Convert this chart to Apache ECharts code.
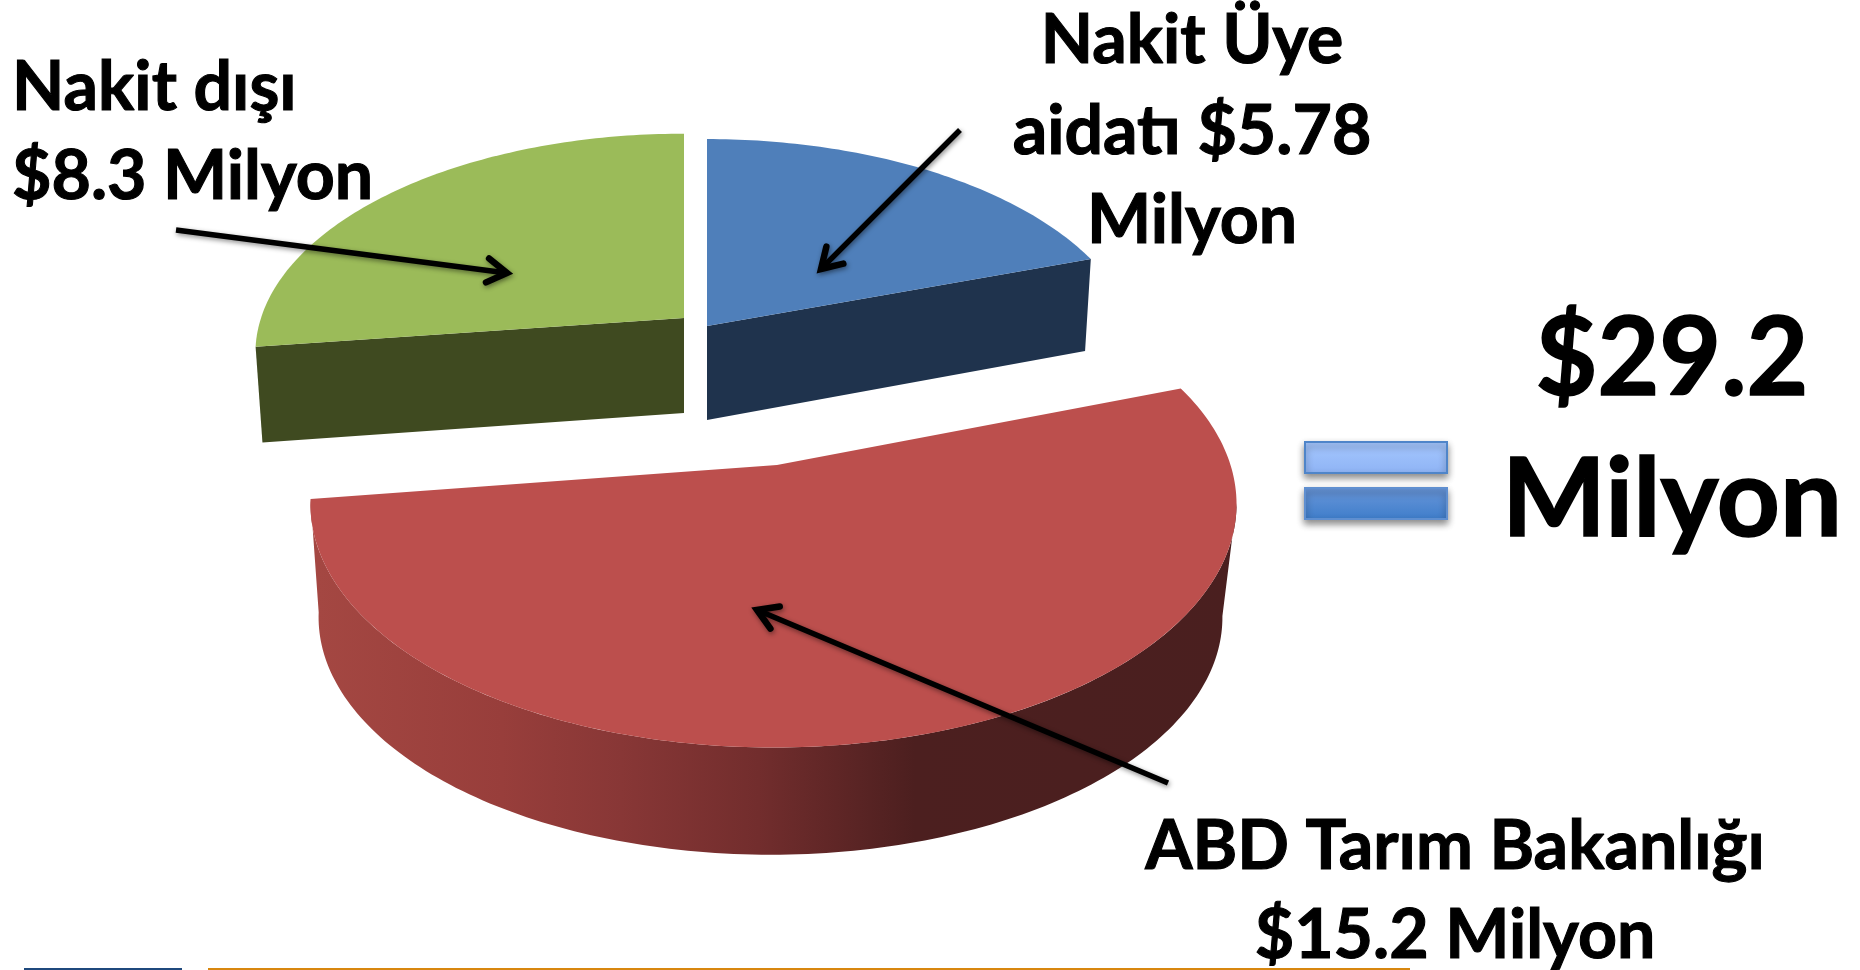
<!DOCTYPE html>
<html>
<head>
<meta charset="utf-8">
<style>
  html, body { margin: 0; padding: 0; background: #fff; }
  #chart { width: 1860px; height: 970px; }
</style>
<script src="https://cdn.jsdelivr.net/npm/echarts@6/dist/echarts.min.js"></script>
</head>
<body>
<div id="chart"></div>
<script>
const categories = ['Nakit Üye aidatı', 'ABD Tarım Bakanlığı', 'Nakit dışı']
const values = [5.78, 15.2, 8.3]
const total = values.reduce((a, b) => a + b, 0)

// perspective of each exploded slice, the drawn pie leans back a little
const KEEP = 0.161
const sliceLook = [
  { cx: 707, cy: 326, rx: 427, ry: 217, depth: 94, lean: 0.1, lowDx: 0, shrink: 0.985, top: '#4f7fba', wall: '#1f334d', trim: [0, 0], wallFrom: 'end' },
  { cx: 773.5, cy: 465, apexX: 777, rx: 457, ry: 237, depth: 114, lean: 0, lowDx: -3, shrink: 0.976, top: '#bc4f4d', trim: [-1, 4], wallFrom: 'arc' },
  { cx: 684, cy: 318, rx: 423, ry: 214, depth: 95, lean: 0.1, lowDx: 0, shrink: 0.984, top: '#9bbb59', wall: '#3f4a20', trim: [4.5, 0], wallFrom: 'start' }
]
const drawOrder = [2, 0, 1]

function project(look, deg, r, low) {
  const t = deg * Math.PI / 180
  const c = Math.cos(t)
  const s = 1 / (1 + KEEP * c)
  const scale = low ? look.shrink : 1
  const x0 = r === 0 && look.apexX ? look.apexX : look.cx
  return [
    x0 + (low ? look.lowDx : 0) + look.rx * Math.sin(t) * s * r * scale,
    look.cy + (low ? look.depth * (1 - look.lean * c * r) : 0) - look.ry * c * s * r * scale
  ]
}

function arcPoints(look, from, to, low) {
  const pts = []
  const n = Math.ceil(Math.abs(to - from))
  for (let i = 0; i <= n; i++) pts.push(project(look, from + (to - from) * i / n, 1, low))
  return pts
}

function sliceAngles(index) {
  let before = 0
  for (let i = 0; i < index; i++) before += values[i]
  const look = sliceLook[index]
  return [before / total * 360 + look.trim[0], (before + values[index]) / total * 360 + look.trim[1]]
}

function renderSlice(params, api) {
  const index = drawOrder[params.dataIndex]
  const look = sliceLook[index]
  const [a0, a1] = sliceAngles(index)
  const children = []
  if (look.wallFrom === 'arc') {
    // outer rim, only the part facing us
    const rimStart = Math.max(a0, 99)
    const rim = arcPoints(look, rimStart, a1, false).concat(arcPoints(look, a1, rimStart, true))
    children.push({
      type: 'polygon',
      shape: { points: rim },
      style: {
        fill: new echarts.graphic.LinearGradient(318, 0, 1236, 0, [
          { offset: 0, color: '#a44742' },
          { offset: 0.2, color: '#983e3b' },
          { offset: 0.33, color: '#883736' },
          { offset: 0.48, color: '#722d2d' },
          { offset: 0.65, color: '#4c1f1f' },
          { offset: 1, color: '#4a1f1f' }
        ], true)
      }
    })
  } else {
    const edge = look.wallFrom === 'end' ? a1 : a0
    children.push({
      type: 'polygon',
      shape: { points: [project(look, edge, 0, false), project(look, edge, 1, false), project(look, edge, 1, true), project(look, edge, 0, true)] },
      style: { fill: look.wall }
    })
  }
  children.push({
    type: 'polygon',
    shape: { points: [project(look, a0, 0, false)].concat(arcPoints(look, a0, a1, false)) },
    style: { fill: look.top }
  })
  return { type: 'group', children }
}

function label(text, x, y, size, align, scaleX) {
  return {
    type: 'text', x, y, scaleX: scaleX || 1, z: 20,
    style: {
      text, fill: '#000', stroke: '#000', lineWidth: size > 90 ? 1.6 : 1.1,
      font: 'bold ' + size + 'px Lato', textAlign: align, textVerticalAlign: 'bottom'
    }
  }
}

// annotation arrow with the soft shadow of the slide
function arrow(x1, y1, x2, y2) {
  const a = Math.atan2(y2 - y1, x2 - x1)
  const len = 23
  const wing = 0.55
  const shadow = { shadowBlur: 5, shadowColor: 'rgba(0,0,0,0.45)', shadowOffsetX: 1, shadowOffsetY: 2 }
  return [
    {
      type: 'line', z: 15,
      shape: { x1, y1, x2: x2 - Math.cos(a) * 4, y2: y2 - Math.sin(a) * 4 },
      style: { stroke: '#000', lineWidth: 5.5, ...shadow }
    },
    {
      type: 'polyline', z: 15,
      shape: {
        points: [
          [x2 - len * Math.cos(a - wing), y2 - len * Math.sin(a - wing)],
          [x2, y2],
          [x2 - len * Math.cos(a + wing), y2 - len * Math.sin(a + wing)]
        ]
      },
      style: { stroke: '#000', fill: null, lineWidth: 6.5, lineJoin: 'miter', lineCap: 'round', ...shadow }
    }
  ]
}

function equalsBar(y, c0, c1, strokeColor) {
  return {
    type: 'rect', z: 10,
    shape: { x: 1305, y, width: 142, height: 31 },
    style: {
      fill: new echarts.graphic.LinearGradient(0, 0, 0, 1, [{ offset: 0, color: c0 }, { offset: 1, color: c1 }]),
      stroke: strokeColor, lineWidth: 2,
      shadowBlur: 7, shadowColor: 'rgba(0,0,0,0.45)', shadowOffsetY: 4
    }
  }
}

const chart = echarts.init(document.getElementById('chart'), null, { renderer: 'canvas' })
chart.setOption({
  animation: false,
  backgroundColor: '#fff',
  series: [{
    type: 'custom',
    coordinateSystem: 'none',
    silent: true,
    data: drawOrder.map(i => ({ name: categories[i], value: values[i] })),
    renderItem: renderSlice
  }],
  graphic: [
    label('Nakit dışı', 12, 122, 68, 'left'),
    label('$8.3 Milyon', 12, 211, 68, 'left'),
    label('Nakit Üye', 1192, 75, 68, 'center'),
    label('aidatı $5.78', 1192, 166, 68, 'center'),
    label('Milyon', 1192, 255, 68, 'center'),
    label('$29.2', 1672, 415, 110, 'center', 0.97),
    label('Milyon', 1672, 556, 110, 'center'),
    label('ABD Tarım Bakanlığı', 1455, 881, 68, 'center'),
    label('$15.2 Milyon', 1455, 970, 68, 'center'),
    ...arrow(176, 230, 507, 273),
    ...arrow(960, 130, 821, 269),
    ...arrow(1168, 783, 757, 610),
    equalsBar(442, '#a6c8ff', '#8eb3f4', '#4f85c9'),
    equalsBar(488, '#6a97da', '#3e7dca', '#5f8fd0'),
    { type: 'rect', shape: { x: 24, y: 968, width: 158, height: 2 }, style: { fill: '#1f497d' } },
    { type: 'rect', shape: { x: 208, y: 968, width: 1202, height: 2 }, style: { fill: '#d8870f' } }
  ]
})
</script>
</body>
</html>
